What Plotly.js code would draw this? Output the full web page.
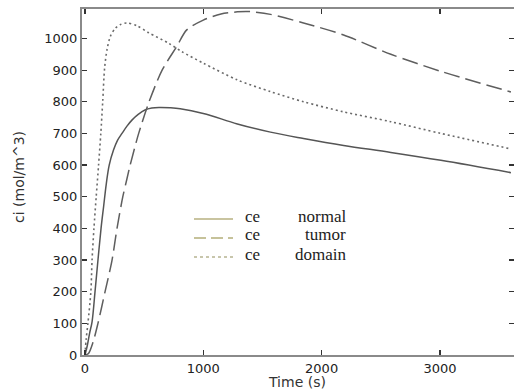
<!DOCTYPE html>
<html>
<head>
<meta charset="utf-8">
<script src="https://cdn.plot.ly/plotly-3.0.1.min.js"></script>
<style>html,body{margin:0;padding:0;background:#fff;}#chart{width:514px;height:392px;}</style>
</head>
<body>
<div id="chart"></div>
<script>
// Time (s) and concentration values
const tNormal = [0, 20, 40, 60, 85, 110, 136, 158, 180, 205, 242, 275, 313, 355, 397, 450, 507, 565, 625, 720, 805, 1000, 1288, 1568, 1847, 2186, 2585, 3008, 3600];
const ceNormal = [0, 30, 70, 105, 200, 300, 400, 470, 540, 600, 648, 678, 700, 723, 742, 760, 774, 780, 782, 781, 778, 763, 730, 704, 684, 662, 640, 615, 576];

const tTumor = [0, 30, 68, 110, 170, 229, 271, 320, 352, 382, 454, 542, 652, 775, 860, 1000, 1150, 1288, 1370, 1424, 1568, 1847, 2186, 2585, 3008, 3600];
const ceTumor = [0, 5, 40, 100, 200, 300, 400, 500, 552, 600, 700, 800, 900, 974, 1027, 1058, 1077, 1084, 1085, 1084, 1076, 1049, 1011, 950, 896, 831];

const tDomain = [0, 10, 25, 50, 60, 76, 95, 115, 134, 150, 166, 186, 214, 256, 300, 355, 440, 538, 707, 820, 1000, 1288, 1568, 1847, 2186, 2585, 3008, 3600];
const ceDomain = [0, 50, 100, 200, 300, 400, 500, 600, 700, 800, 906, 964, 1006, 1032, 1044, 1049, 1040, 1018, 985, 958, 922, 869, 832, 800, 768, 737, 700, 651];

const legendLabels = ["normal", "tumor", "domain"];
const legendPrefix = "ce";
const xTitle = "Time (s)";
const yTitle = "ci (mol/m^3)";

const traces = [
  {x: tNormal, y: ceNormal, mode: "lines", line: {color: "#555555", width: 1.5, shape: "spline", smoothing: 1}, showlegend: false},
  {x: tTumor, y: ceTumor, mode: "lines", line: {color: "#5e5e5e", width: 1.5, dash: "16px,6px", shape: "spline", smoothing: 0.8}, showlegend: false},
  {x: tDomain, y: ceDomain, mode: "lines", line: {color: "#6a6a6a", width: 1.6, dash: "2px,3px", shape: "spline", smoothing: 0.8}, showlegend: false}
];

// legend drawn as decoration (pixel -> paper helpers)
const L = 82, R = 514, T = 9, B = 355;
const px = v => (v - L) / (R - L);
const py = v => (B - v) / (B - T);
const legColors = ["#c9c4a0", "#c6c29a", "#c8c6ac"];
const legDash = ["solid", "12px,5px", "3px,3px"];
const legY = [219, 238, 257];
const shapes = [];
const annotations = [];
for (let i = 0; i < 3; i++) {
  shapes.push({type: "line", xref: "paper", yref: "paper", x0: px(194), x1: px(233), y0: py(legY[i]), y1: py(legY[i]),
    line: {color: legColors[i], width: 2, dash: legDash[i]}});
  annotations.push({xref: "paper", yref: "paper", x: px(243), y: py(legY[i] - 3), xanchor: "left", yanchor: "middle",
    text: legendPrefix, showarrow: false, font: {family: "Liberation Serif", size: 17, color: "#222"}});
  annotations.push({xref: "paper", yref: "paper", x: px(348), y: py(legY[i] - 3), xanchor: "right", yanchor: "middle",
    text: legendLabels[i], showarrow: false, font: {family: "Liberation Serif", size: 17, color: "#222"}});
}
annotations.push({xref: "paper", yref: "paper", x: px(297), y: py(382), xanchor: "center", yanchor: "middle",
  text: xTitle, showarrow: false, font: {family: "DejaVu Sans", size: 14, color: "#333"}});
annotations.push({xref: "paper", yref: "paper", x: px(19), y: py(177), xanchor: "center", yanchor: "middle", textangle: -90,
  text: yTitle, showarrow: false, font: {family: "DejaVu Sans", size: 14, color: "#333"}});

const layout = {
  width: 514, height: 392,
  margin: {l: L, r: 514 - R, t: T, b: 392 - B},
  paper_bgcolor: "#fff", plot_bgcolor: "#fff",
  font: {family: "DejaVu Sans", size: 13, color: "#222"},
  xaxis: {range: [-25, 3626], dtick: 1000, tick0: 0, showgrid: false, zeroline: false,
    showline: true, linecolor: "#8a8a8a", linewidth: 2, mirror: "ticks",
    ticks: "inside", ticklen: 5, tickwidth: 1.2, tickcolor: "#333",
    tickfont: {family: "DejaVu Sans", size: 13, color: "#222"}},
  yaxis: {range: [0, 1093], dtick: 100, tick0: 0, showgrid: false, zeroline: false,
    showline: true, linecolor: "#8a8a8a", linewidth: 2, mirror: "ticks",
    ticks: "inside", ticklen: 5, tickwidth: 1.2, tickcolor: "#333",
    tickfont: {family: "DejaVu Sans", size: 13, color: "#222"}},
  shapes: shapes,
  annotations: annotations
};

Plotly.newPlot("chart", traces, layout, {displayModeBar: false, staticPlot: true});
</script>
</body>
</html>
